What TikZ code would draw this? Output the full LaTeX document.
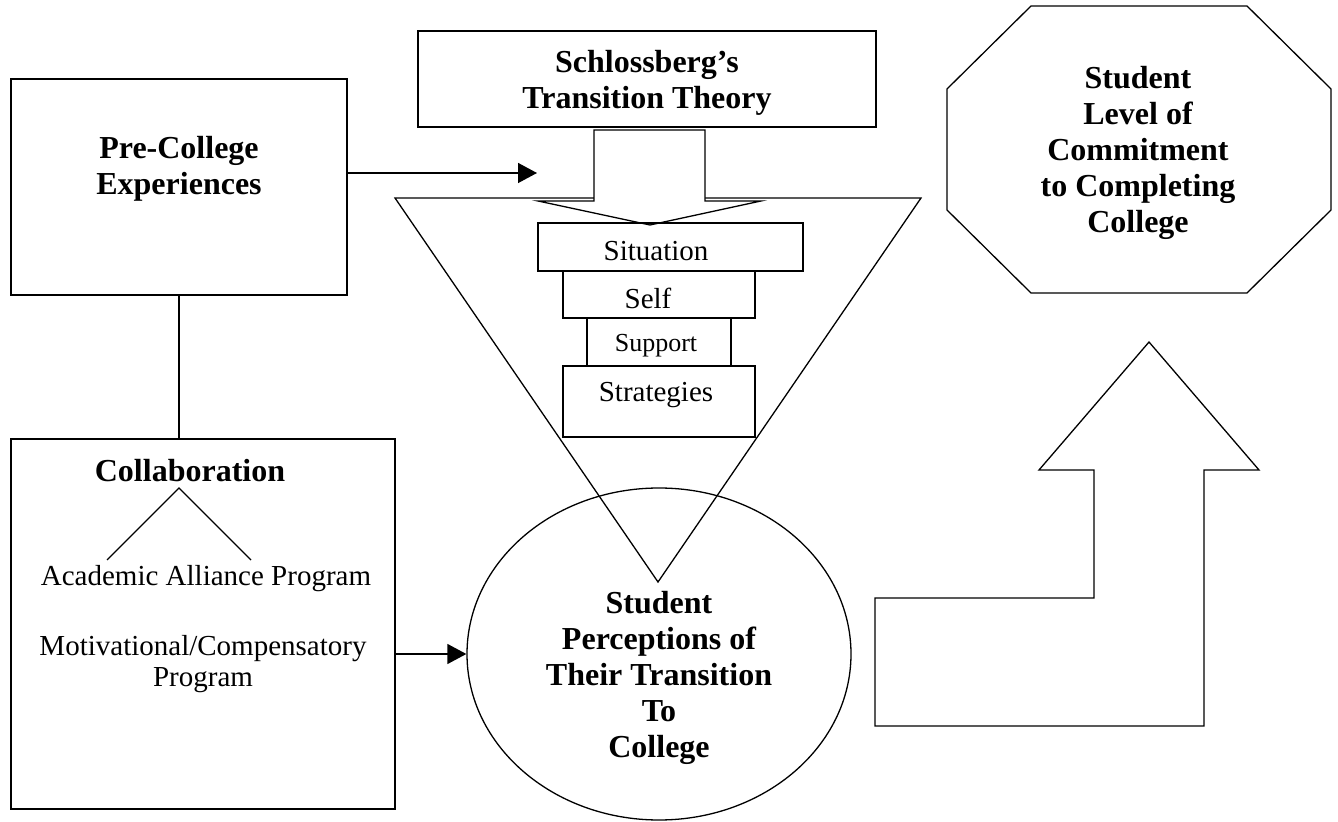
\documentclass[tikz,border=0pt]{standalone}
\usepackage{fontspec}
\setmainfont{Liberation Serif}
\usepackage{tikz}
\usetikzlibrary{arrows.meta, shapes.geometric, positioning}

\tikzset{
  box/.style={draw, line width=0.8pt, inner sep=0pt},
  outline/.style={line width=0.65pt},
  boldtxt/.style={font=\fontsize{16}{18}\selectfont\bfseries, align=center, inner sep=0pt},
  plaintxt/.style={font=\fontsize{14.5}{15.5}\selectfont, align=center, inner sep=0pt},
}

\begin{document}
\begin{tikzpicture}[x=0.5pt, y=-0.5pt, >={Triangle[length=9.5pt, width=10pt]}, line join=miter]
    \useasboundingbox (0,0) rectangle (1338,822);

    % Left column
    \node[box, minimum width=168pt, minimum height=108pt] (pre) at (179,187) {};
    \node[boldtxt] (pretxt) at (179,169) {Pre-College\\Experiences};
    \node[box, minimum width=192pt, minimum height=185pt] (collab) at (203,624) {};
    \node[boldtxt] (colltxt) at (190,471) {Collaboration};
    \node[plaintxt] (aap) at (206,579) {Academic Alliance Program};
    \node[plaintxt] (mcp) at (203,664) {Motivational/Compensatory\\Program};
    \coordinate (fork) at (179,488);
    \coordinate (forkl) at (107,560);
    \coordinate (forkr) at (251,560);
    \draw[outline] (forkl) -- (fork) -- (forkr);

    % Transition theory
    \node[box, minimum width=229pt, minimum height=48pt] (theory) at (647,79) {};
    \node[boldtxt] (theorytxt) at (647,83) {Schlossberg’s\\Transition Theory};
    \draw[outline] (395,198) -- (921,198) -- (658,582) -- cycle;
    \draw[outline, fill=white] (594,130) -- (705,130) -- (705,201) -- (761,201)
        -- (650,225) -- (538,201) -- (594,201) -- cycle;

    % The 4 S's
    \node[box, minimum width=132.5pt, minimum height=24pt] (sit) at (670.5,247) {};
    \node[plaintxt] (sittxt) at (656,251) {Situation};
    \node[box, minimum width=96pt, minimum height=23.5pt] (self) at (659,294.5) {};
    \node[plaintxt] (selftxt) at (648,298) {Self};
    \node[box, minimum width=72pt, minimum height=24pt] (supp) at (659,342) {};
    \node[plaintxt, font=\fontsize{13}{14}\selectfont] (supptxt) at (656,346) {Support};
    \node[box, minimum width=96pt, minimum height=35.5pt] (strat) at (659,401.5) {};
    \node[plaintxt] (strattxt) at (656,395) {Strategies};

    % Student perceptions
    \node[draw, outline, ellipse, minimum width=192pt, minimum height=166pt, inner sep=0pt] (perc) at (659,654) {};
    \node[boldtxt] (perctxt) at (659,678) {Student\\Perceptions of\\Their Transition\\To\\College};

    % Commitment
    \draw[outline] (1031,6) -- (1247,6) -- (1331,89) -- (1331,210) -- (1247,293)
        -- (1031,293) -- (947,210) -- (947,89) -- cycle;
    \node[boldtxt] (committxt) at (1138,153) {Student\\Level of\\Commitment\\to Completing\\College};
    \draw[outline] (875,598) -- (1094,598) -- (1094,470) -- (1039,470) -- (1149,342)
        -- (1259,470) -- (1204,470) -- (1204,726) -- (875,726) -- cycle;

    % Connectors
    \coordinate (preend) at (537,173);
    \draw[->, line width=0.7pt] (pre.east |- preend) -- (preend);
    \draw[line width=0.7pt] (pre.south) -- (pre.south |- collab.north);
    \draw[->, line width=0.7pt] (collab.east |- perc.west) -- (perc.west);
\end{tikzpicture}
\end{document}
